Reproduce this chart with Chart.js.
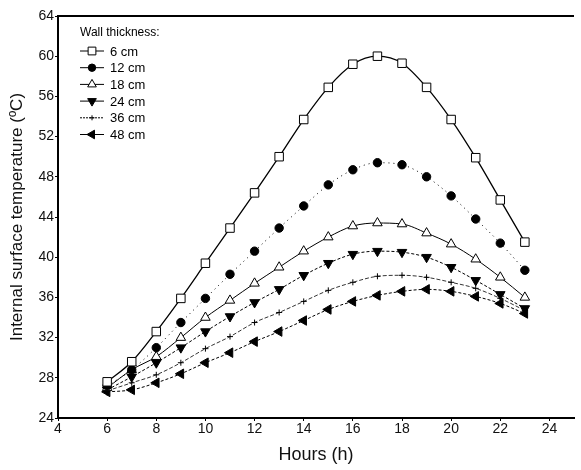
<!DOCTYPE html>
<html>
<head>
<meta charset="utf-8">
<script src="https://cdn.jsdelivr.net/npm/chart.js@4.4.1/dist/chart.umd.min.js"></script>
<style>
  html, body { margin: 0; padding: 0; background: #fff; }
  #wrap { width: 581px; height: 470px; }
</style>
</head>
<body>
<div id="wrap"><canvas id="chart" width="581" height="470"></canvas></div>
<script>
// data
const hours = [6, 7, 8, 9, 10, 11, 12, 13, 14, 15, 16, 17, 18, 19, 20, 21, 22, 23];
const wall6 = [27.6, 29.6, 32.6, 35.9, 39.4, 42.9, 46.4, 50.0, 53.7, 56.9, 59.2, 60.0, 59.3, 56.9, 53.7, 49.9, 45.7, 41.5];
const wall12 = [27.2, 28.8, 31.0, 33.5, 35.9, 38.3, 40.6, 42.9, 45.1, 47.2, 48.7, 49.4, 49.2, 48.0, 46.1, 43.8, 41.4, 38.7];
const wall18 = [27.0, 28.8, 30.1, 32.0, 34.0, 35.7, 37.4, 39.0, 40.6, 42.0, 43.1, 43.4, 43.3, 42.4, 41.3, 39.8, 38.0, 36.0];
const wall24 = [26.8, 28.1, 29.5, 31.0, 32.6, 34.1, 35.5, 36.8, 38.2, 39.4, 40.3, 40.6, 40.5, 40.0, 39.0, 37.7, 36.3, 34.9];
const wall36 = [26.7, 27.5, 28.3, 29.5, 30.9, 32.1, 33.5, 34.5, 35.6, 36.7, 37.5, 38.1, 38.2, 38.0, 37.5, 36.9, 35.9, 34.7];
const wall48 = [26.6, 26.8, 27.5, 28.4, 29.5, 30.5, 31.6, 32.6, 33.7, 34.8, 35.6, 36.2, 36.6, 36.8, 36.6, 36.1, 35.4, 34.4];
const labels = ["6 cm", "12 cm", "18 cm", "24 cm", "36 cm", "48 cm"];
const xTicks = [4, 6, 8, 10, 12, 14, 16, 18, 20, 22, 24];
const yTicks = [24, 28, 32, 36, 40, 44, 48, 52, 56, 60, 64];

const font = "'Liberation Sans', Arial, sans-serif";
const pts = (arr) => arr.map((v, i) => ({ x: hours[i], y: v }));

const styles = [
  { pointStyle: "rect", radius: 6, fill: "#fff", width: 1.3, dash: [], rot: 0 },
  { pointStyle: "circle", radius: 4.2, fill: "#000", width: 1, dash: [1, 4], rot: 0 },
  { pointStyle: "triangle", radius: 5.5, fill: "#fff", width: 1, dash: [], rot: 0 },
  { pointStyle: "triangle", radius: 5.5, fill: "#000", width: 1, dash: [3, 2], rot: 180 },
  { pointStyle: "cross", radius: 3, fill: "#000", width: 0.8, dash: [4, 2], rot: 0 },
  { pointStyle: "triangle", radius: 5.5, fill: "#000", width: 1, dash: [3, 2], rot: 270 }
];

const series = [wall6, wall12, wall18, wall24, wall36, wall48];

const datasets = series.map((s, i) => ({
  label: labels[i],
  data: pts(s),
  borderColor: "#000",
  borderWidth: styles[i].width,
  borderDash: styles[i].dash,
  backgroundColor: styles[i].fill,
  pointStyle: styles[i].pointStyle,
  pointRadius: styles[i].radius,
  pointRotation: styles[i].rot,
  pointBackgroundColor: styles[i].fill,
  pointBorderColor: "#000",
  pointBorderWidth: 1,
  tension: 0.4,
  cubicInterpolationMode: "monotone",
  fill: false
}));

// top frame line + legend drawn inside the plot
const frameAndLegend = {
  id: "frameAndLegend",
  afterDraw(chart) {
    const ctx = chart.ctx;
    const a = chart.chartArea;
    ctx.save();
    ctx.strokeStyle = "#000";
    ctx.lineWidth = 2;
    ctx.beginPath();
    ctx.moveTo(a.left, a.top);
    ctx.lineTo(a.right, a.top);
    ctx.stroke();

    ctx.fillStyle = "#000";
    ctx.font = "12px " + font;
    ctx.textBaseline = "middle";
    ctx.fillText("Wall thickness:", 80, 33);
    ctx.font = "13px " + font;
    labels.forEach((lab, i) => {
      const y = 51 + i * 16.7;
      const st = styles[i];
      ctx.lineWidth = 1;
      ctx.setLineDash(i === 4 ? [2, 1] : []);
      ctx.beginPath();
      ctx.moveTo(80, y);
      ctx.lineTo(104, y);
      ctx.stroke();
      ctx.setLineDash([]);
      ctx.fillStyle = st.fill;
      ctx.strokeStyle = "#000";
      ctx.lineWidth = 1;
      Chart.helpers.drawPoint(ctx, {
        pointStyle: st.pointStyle,
        radius: st.radius - 0.5,
        rotation: st.rot,
        borderWidth: 1
      }, 92, y);
      ctx.fillStyle = "#000";
      ctx.fillText(lab, 110, y + 1);
    });
    ctx.restore();
  }
};

new Chart(document.getElementById("chart"), {
  type: "line",
  data: { datasets },
  options: {
    responsive: false,
    animation: false,
    layout: { padding: { top: 16, right: 0, left: 0, bottom: 0 } },
    plugins: { legend: { display: false }, tooltip: { enabled: false } },
    scales: {
      x: {
        type: "linear",
        min: 4,
        max: 25,
        afterBuildTicks: (s) => { s.ticks = xTicks.map((v) => ({ value: v })); },
        afterFit: (s) => { s.height = 52; },
        border: { color: "#000", width: 2 },
        grid: { display: true, drawOnChartArea: false, drawTicks: true, tickLength: 3, color: "#000" },
        ticks: { color: "#111", font: { family: font, size: 14 }, padding: 0, maxRotation: 0 },
        title: { display: true, text: "Hours (h)", color: "#111", font: { family: font, size: 18 }, padding: { top: 2 } }
      },
      y: {
        min: 24,
        max: 64,
        afterBuildTicks: (s) => { s.ticks = yTicks.map((v) => ({ value: v })); },
        afterFit: (s) => { s.width = 58; },
        border: { color: "#000", width: 2 },
        grid: { display: true, drawOnChartArea: false, drawTicks: true, tickLength: 3, color: "#000" },
        ticks: { color: "#111", font: { family: font, size: 14 }, padding: 1 },
        title: { display: true, text: "Internal surface temperature (ºC)", color: "#111", font: { family: font, size: 17 }, padding: { top: 7, bottom: 2 } }
      }
    }
  },
  plugins: [frameAndLegend]
});
</script>
</body>
</html>
